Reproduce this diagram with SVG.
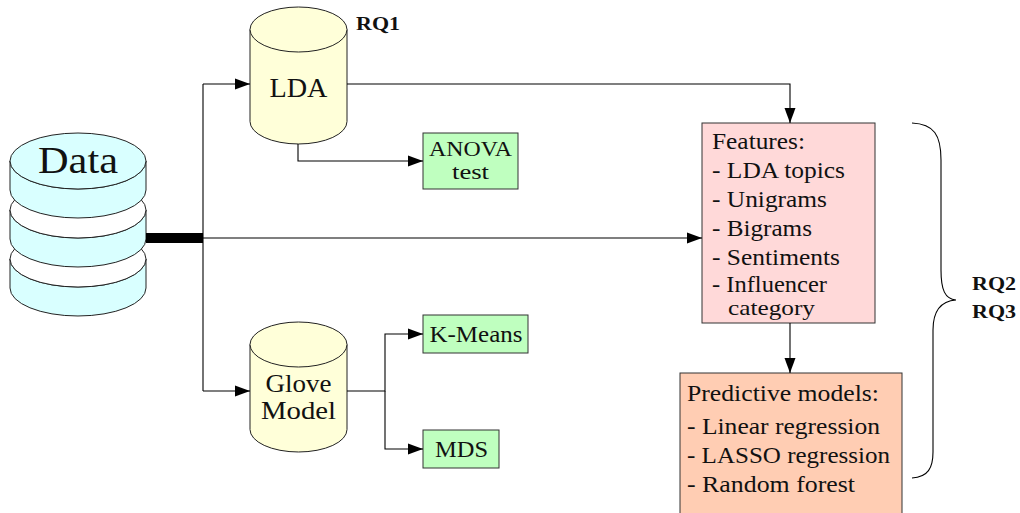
<svg xmlns="http://www.w3.org/2000/svg" width="1020" height="513" viewBox="0 0 1020 513" font-family="'Liberation Serif', 'DejaVu Serif', serif">
<defs>
<marker id="ah" markerUnits="userSpaceOnUse" markerWidth="16" markerHeight="12" refX="15" refY="6" orient="auto">
<path d="M0,0.5 L15,6 L0,11.5 Z" fill="#000"/>
</marker>
<style>
text{fill:#111}
.cyl{fill:#ffffd9;stroke:#222;stroke-width:1}
.dat{fill:#d9ffff;stroke:#222;stroke-width:1}
.wht{fill:#fff;stroke:#222;stroke-width:1}
.box{stroke:#333;stroke-width:1}
.grn{fill:#bfffbf}
.con{fill:none;stroke:#000;stroke-width:1.1}
.rq{font-weight:bold;font-size:18px}
</style>
</defs>
<rect width="1020" height="513" fill="#fff"/>

<g id="data">
<path class="dat" d="M10,259 V288 A68,28 0 0 0 146,288 V259 A68,28 0 0 1 10,259 Z"/>
<ellipse class="wht" cx="78" cy="259" rx="68" ry="28"/>
<path class="dat" d="M10,210 V239 A68,28 0 0 0 146,239 V210 A68,28 0 0 1 10,210 Z"/>
<ellipse class="wht" cx="78" cy="210" rx="68" ry="28"/>
<path class="dat" d="M10,161 V190 A68,28 0 0 0 146,190 V161 A68,28 0 0 1 10,161 Z"/>
<ellipse class="dat" cx="78" cy="161" rx="68" ry="28"/>
<text x="78" y="173" font-family="Liberation Serif, serif" font-size="37" text-anchor="middle" textLength="80" lengthAdjust="spacingAndGlyphs">Data</text>
</g>

<g id="lda">
<path class="cyl" d="M250,29.5 V121.5 A48.5,22.5 0 0 0 347,121.5 V29.5 Z"/>
<ellipse class="cyl" cx="298.5" cy="29.5" rx="48.5" ry="22.5"/>
<text x="298.5" y="97" font-family="Liberation Serif, serif" font-size="27" text-anchor="middle" textLength="58" lengthAdjust="spacingAndGlyphs">LDA</text>
</g>
<text id="rq1" class="rq" x="356" y="30" font-family="Liberation Serif, serif" textLength="44" lengthAdjust="spacingAndGlyphs">RQ1</text>

<g id="glove" font-family="Liberation Serif, serif">
<path class="cyl" d="M250,344.5 V429.5 A48.5,22.5 0 0 0 347,429.5 V344.5 Z"/>
<ellipse class="cyl" cx="298.5" cy="344.5" rx="48.5" ry="22.5"/>
<text x="298.5" y="392" font-size="24.5" text-anchor="middle" textLength="66" lengthAdjust="spacingAndGlyphs">Glove</text>
<text x="298.5" y="419" font-size="24.5" text-anchor="middle" textLength="75" lengthAdjust="spacingAndGlyphs">Model</text>
</g>

<g id="anova" font-family="Liberation Serif, serif">
<rect class="box grn" x="423" y="133" width="95" height="56"/>
<text x="470.5" y="156" font-size="22" text-anchor="middle" textLength="83" lengthAdjust="spacingAndGlyphs">ANOVA</text>
<text x="470.5" y="179" font-size="22" text-anchor="middle" textLength="37" lengthAdjust="spacingAndGlyphs">test</text>
</g>

<g id="kmeans" font-family="Liberation Serif, serif">
<rect class="box grn" x="423" y="315" width="105" height="38"/>
<text x="476" y="342" font-size="23" text-anchor="middle" textLength="93" lengthAdjust="spacingAndGlyphs">K-Means</text>
</g>

<g id="mds" font-family="Liberation Serif, serif">
<rect class="box grn" x="423" y="430" width="76" height="38"/>
<text x="461.5" y="457" font-size="23" text-anchor="middle" textLength="53" lengthAdjust="spacingAndGlyphs">MDS</text>
</g>

<g id="features" font-family="Liberation Serif, serif">
<rect class="box" fill="#ffd9d9" x="702" y="123" width="173" height="200"/>
<g font-size="23">
<text x="712" y="149" textLength="93" lengthAdjust="spacingAndGlyphs">Features:</text>
<text x="712" y="178" textLength="133" lengthAdjust="spacingAndGlyphs">- LDA topics</text>
<text x="712" y="207" textLength="115" lengthAdjust="spacingAndGlyphs">- Unigrams</text>
<text x="712" y="236" textLength="100" lengthAdjust="spacingAndGlyphs">- Bigrams</text>
<text x="712" y="265" textLength="128" lengthAdjust="spacingAndGlyphs">- Sentiments</text>
<text x="712" y="292" textLength="115" lengthAdjust="spacingAndGlyphs">- Influencer</text>
<text x="728" y="315" font-size="21" textLength="87" lengthAdjust="spacingAndGlyphs">category</text>
</g>
</g>

<g id="predictive" font-family="Liberation Serif, serif">
<rect class="box" fill="#ffcdb3" x="680" y="373" width="222" height="150"/>
<g font-size="23.5">
<text x="687" y="401" textLength="192" lengthAdjust="spacingAndGlyphs">Predictive models:</text>
<text x="687" y="434" textLength="193" lengthAdjust="spacingAndGlyphs">- Linear regression</text>
<text x="687" y="463" textLength="203" lengthAdjust="spacingAndGlyphs">- LASSO regression</text>
<text x="687" y="492" textLength="168" lengthAdjust="spacingAndGlyphs">- Random forest</text>
</g>
</g>

<g id="brace" font-family="Liberation Serif, serif">
<path fill="none" stroke="#000" stroke-width="1.1" d="M912,123 C934,124 941,135 941,160 L941,270 C941,290 945,299 956,300 C942,301 933,310 933,330 L933,452 C933,468 928,477 912,478"/>
<text class="rq" x="972" y="290" textLength="44" lengthAdjust="spacingAndGlyphs">RQ2</text>
<text class="rq" x="972" y="318" textLength="44" lengthAdjust="spacingAndGlyphs">RQ3</text>
</g>

<g id="connectors">
<rect x="146" y="233" width="57" height="10" fill="#000"/>
<path class="con" d="M203,84 V391"/>
<path class="con" d="M203,84 H250" marker-end="url(#ah)"/>
<path class="con" d="M203,391 H250" marker-end="url(#ah)"/>
<path class="con" d="M203,238 H702" marker-end="url(#ah)"/>
<path class="con" d="M347,84 H790 V123" marker-end="url(#ah)"/>
<path class="con" d="M298,144 V161 H423" marker-end="url(#ah)"/>
<path class="con" d="M347,391 H385 V334 H423" marker-end="url(#ah)"/>
<path class="con" d="M385,391 V449 H423" marker-end="url(#ah)"/>
<path class="con" d="M790,323 V373" marker-end="url(#ah)"/>
</g>
</svg>
